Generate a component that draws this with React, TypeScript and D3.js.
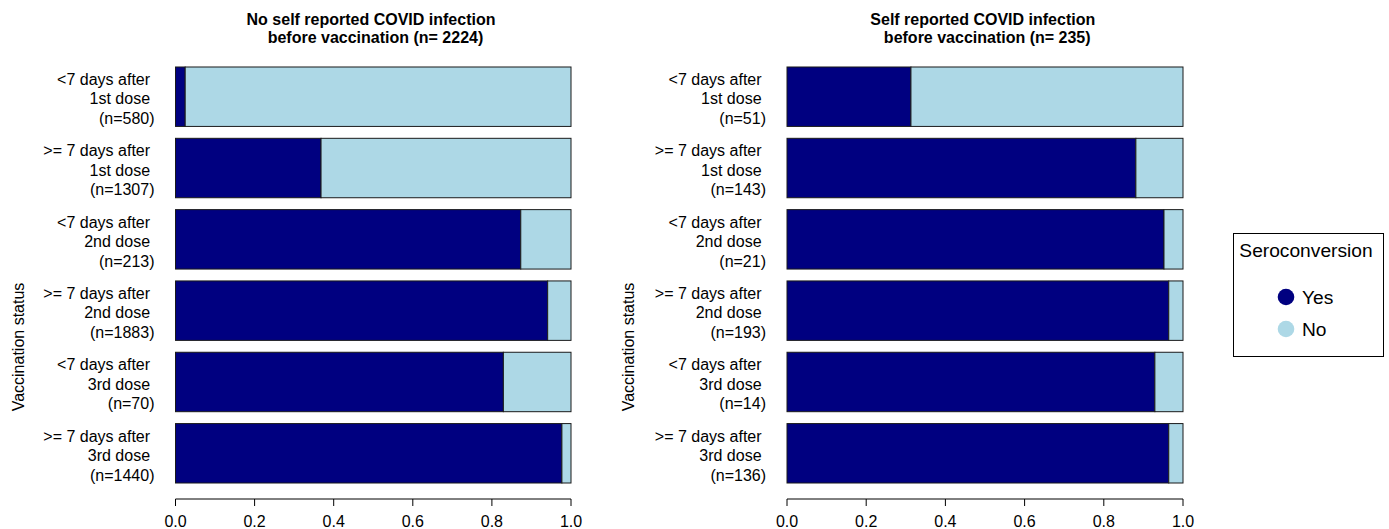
import React from "react";
import * as d3 from "d3";

const categoryLines: string[][] = [
  ["<7 days after", "1st dose"],
  [">= 7 days after", "1st dose"],
  ["<7 days after", "2nd dose"],
  [">= 7 days after", "2nd dose"],
  ["<7 days after", "3rd dose"],
  [">= 7 days after", "3rd dose"],
];
const categoryIds = ["c1", "c2", "c3", "c4", "c5", "c6"];

const leftN = [580, 1307, 213, 1883, 70, 1440];
const leftYes = [0.0245, 0.368, 0.873, 0.941, 0.829, 0.977];
const rightN = [51, 143, 21, 193, 14, 136];
const rightYes = [0.313, 0.881, 0.952, 0.964, 0.929, 0.964];

const leftTitle = ["No self reported COVID infection ", " before vaccination (n= 2224)"];
const rightTitle = ["Self reported COVID infection ", " before vaccination (n= 235)"];

const xTicks = [0, 0.2, 0.4, 0.6, 0.8, 1.0];
const legendTitle = "Seroconversion";
const legendKeys = ["Yes", "No"];

const YES_COLOR = "#000080";
const NO_COLOR = "#ADD8E6";
const FONT = "'Liberation Sans', Arial, sans-serif";

const W = 1389;
const H = 529;

const y = d3
  .scaleBand<string>()
  .domain(categoryIds)
  .range([61.05, 488.95])
  .paddingInner(1 / 6)
  .paddingOuter(1 / 12);

function Panel({
  x0,
  x1,
  yes,
  ns,
  title,
  ylabX,
}: {
  x0: number;
  x1: number;
  yes: number[];
  ns: number[];
  title: string[];
  ylabX: number;
}) {
  const x = d3.scaleLinear().domain([0, 1]).range([x0, x1]);
  const cx = (x0 + x1) / 2;
  const axisY = 499;
  return (
    <g>
      <text
        x={cx}
        textAnchor="middle"
        fontFamily={FONT}
        fontWeight="bold"
        fontSize={16}
        style={{ whiteSpace: "pre" }}
      >
        <tspan x={cx} y={25}>{title[0]}</tspan>
        <tspan x={cx} y={43}>{title[1]}</tspan>
      </text>
      {categoryIds.map((id, i) => {
        const top = y(id)!;
        const bh = y.bandwidth();
        return (
          <g key={id}>
            <rect
              x={x(0)}
              y={top}
              width={x(yes[i]) - x(0)}
              height={bh}
              fill={YES_COLOR}
              stroke="#1a1a1a"
              strokeWidth={1}
            />
            <rect
              x={x(yes[i])}
              y={top}
              width={x(1) - x(yes[i])}
              height={bh}
              fill={NO_COLOR}
              stroke="#1a1a1a"
              strokeWidth={1}
            />
            {[categoryLines[i][0] + " ", categoryLines[i][1] + " ", `(n=${ns[i]})`].map(
              (line, j) => (
                <text
                  key={j}
                  x={x0 - 21}
                  y={top + bh / 2 + 2 + (j - 1) * 19.5}
                  dy="0.36em"
                  textAnchor="end"
                  fontFamily={FONT}
                  fontSize={16}
                  fill="#000"
                  style={{ whiteSpace: "pre" }}
                >
                  {line}
                </text>
              )
            )}
          </g>
        );
      })}
      <line x1={x(0)} x2={x(1)} y1={axisY} y2={axisY} stroke="#000" strokeWidth={1} />
      {xTicks.map((t) => (
        <g key={t}>
          <line x1={x(t)} x2={x(t)} y1={axisY} y2={axisY + 7} stroke="#000" strokeWidth={1} />
          <text
            x={x(t)}
            y={526.5}
            textAnchor="middle"
            fontFamily={FONT}
            fontSize={16}
            fill="#000"
          >
            {t.toFixed(1)}
          </text>
        </g>
      ))}
      <text
        transform={`translate(${ylabX},347) rotate(-90)`}
        textAnchor="middle"
        dy="0.36em"
        fontFamily={FONT}
        fontSize={16}
        fill="#000"
      >
        Vaccination status
      </text>
    </g>
  );
}

export default function App() {
  return (
    <div style={{ position: "absolute", left: 0, top: 0 }}>
      <svg width={W} height={H} viewBox={`0 0 ${W} ${H}`} style={{ display: "block", background: "#fff" }}>
        <rect x={0} y={0} width={W} height={H} fill="#fff" />
        <Panel x0={175.5} x1={571} yes={leftYes} ns={leftN} title={leftTitle} ylabX={18} />
        <Panel x0={787} x1={1183} yes={rightYes} ns={rightN} title={rightTitle} ylabX={628} />
        <g>
          <rect x={1233.5} y={233.5} width={150} height={123} fill="#fff" stroke="#000" strokeWidth={1} />
          <text x={1306} y={257} textAnchor="middle" fontFamily={FONT} fontSize={19.2} fill="#000">
            {legendTitle}
          </text>
          {legendKeys.map((k, i) => (
            <g key={k}>
              <circle cx={1286} cy={297 + i * 32} r={8.3} fill={i === 0 ? YES_COLOR : NO_COLOR} />
              <text
                x={1302}
                y={297 + i * 32}
                dy="0.36em"
                fontFamily={FONT}
                fontSize={19.2}
                fill="#000"
              >
                {k}
              </text>
            </g>
          ))}
        </g>
      </svg>
    </div>
  );
}
